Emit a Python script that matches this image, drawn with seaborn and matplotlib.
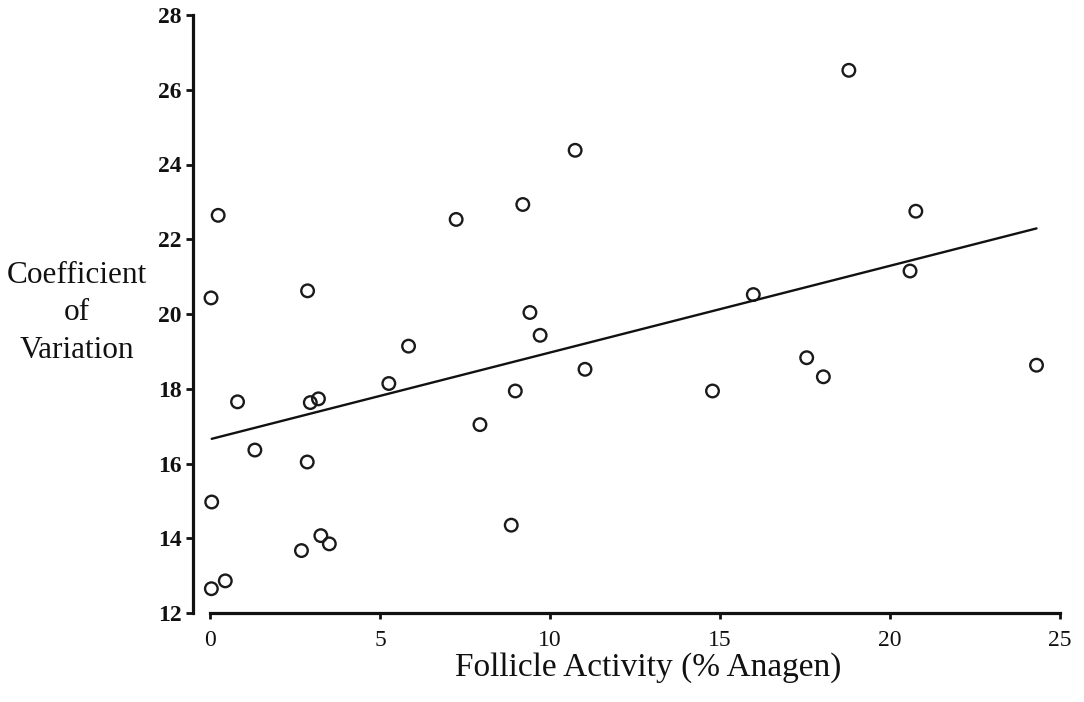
import matplotlib
matplotlib.use("Agg")
import matplotlib.pyplot as plt
import seaborn as sns
import pandas as pd

# Data
follicle_activity = [0.24, 0.03, 2.87, 7.24, 9.20, 9.41, 9.71, 5.84, 5.26, 0.81,
                     2.95, 3.19, 8.98, 7.94, 1.32, 2.86, 0.05, 8.86, 3.26, 3.51,
                     2.69, 0.04, 0.45, 10.74, 15.98, 18.79, 20.76, 20.59, 11.03,
                     14.78, 17.55, 18.04, 24.31]
coef_variation = [22.64, 20.43, 20.62, 22.53, 22.93, 20.04, 19.43, 19.14, 18.14, 17.65,
                  17.63, 17.73, 17.94, 17.04, 16.36, 16.04, 14.97, 14.35, 14.07, 13.85,
                  13.67, 12.65, 12.86, 24.38, 20.52, 26.52, 22.75, 21.15, 18.52,
                  17.94, 18.83, 18.32, 18.63]
fit_x = [0.05, 24.31]
fit_y = [16.66, 22.29]

x_ticks = [0, 5, 10, 15, 20, 25]
y_ticks = [12, 14, 16, 18, 20, 22, 24, 26, 28]

df = pd.DataFrame({"x": follicle_activity, "y": coef_variation})
fit = pd.DataFrame({"x": fit_x, "y": fit_y})

sns.set_theme(style="ticks")
plt.rcParams["font.family"] = ["Liberation Serif", "DejaVu Serif"]

fig = plt.figure(figsize=(10.84, 7.02), dpi=100)
ax = fig.add_axes([193 / 1084, 1 - 613 / 702, (1061 - 193) / 1084, (613 - 15) / 702])

sns.lineplot(data=fit, x="x", y="y", ax=ax, color="#111111", linewidth=1.7)
sns.scatterplot(data=df, x="x", y="y", ax=ax, marker="o", s=82,
                facecolor="none", edgecolor="#1a1a1a", linewidth=1.7)

ax.set_xlim(-0.5, 25.03)
ax.set_ylim(12, 28)
ax.set_xticks(x_ticks)
ax.set_yticks(y_ticks)
ax.set_xticklabels([str(t) for t in x_ticks])
ax.set_yticklabels([str(t) for t in y_ticks], fontweight="bold")

sns.despine(ax=ax)
ax.spines["bottom"].set_bounds(0, 25)
for s in ("left", "bottom"):
    ax.spines[s].set_linewidth(2.3)
    ax.spines[s].set_color("#111111")

ax.tick_params(axis="y", direction="out", length=5, width=2.0, pad=3,
               labelsize=17, colors="#111111")
ax.tick_params(axis="x", direction="out", length=4, width=2.0, pad=8,
               labelsize=17, colors="#111111")

ax.set_xlabel("Follicle Activity (% Anagen)", fontsize=24, color="#111111")
ax.xaxis.set_label_coords(0.524, -0.092)
ax.xaxis.label.set_va("center")

ax.set_ylabel("Coefficient\nof\nVariation", fontsize=22.5, color="#111111",
              rotation=0, ha="center", va="center", linespacing=1.38)
ax.yaxis.set_label_coords(-0.134, 0.502)

fig.savefig("out.png", dpi=100, facecolor="white")
